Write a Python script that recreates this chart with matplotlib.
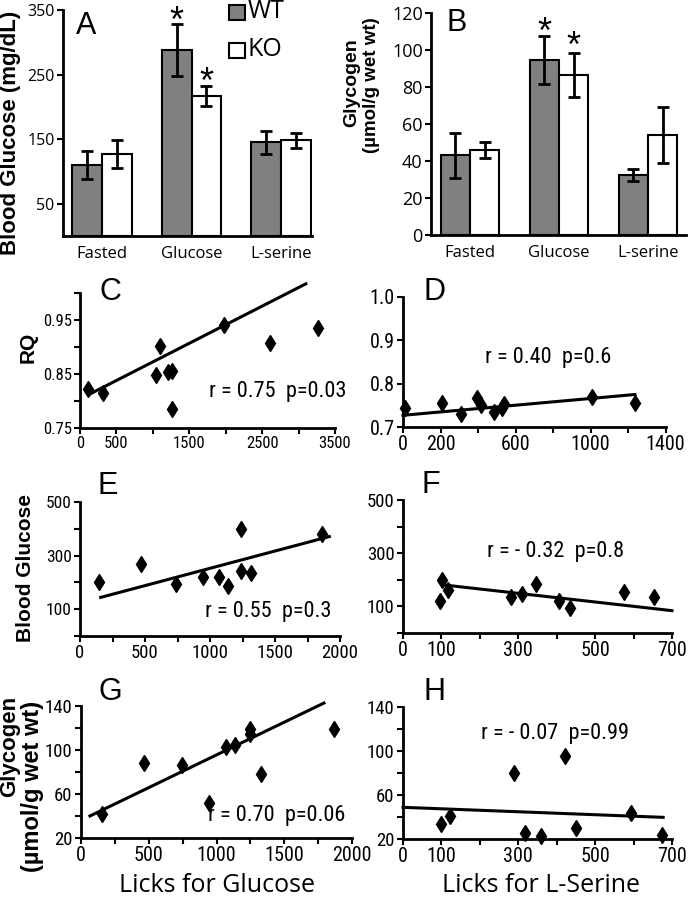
import matplotlib
matplotlib.use('Agg')
import matplotlib.pyplot as plt
import numpy as np
from matplotlib.patches import Rectangle
from matplotlib import font_manager as fm
from matplotlib.font_manager import FontProperties

W, H = 688, 899

# ---------------- data ----------------
conditions = ['Fasted', 'Glucose', 'L-serine']
bg_wt = [110, 288, 145]
bg_wt_err = [21, 40, 18]
bg_ko = [127, 217, 148]
bg_ko_err = [22, 16, 12]

gly_wt = [43, 94.5, 32.5]
gly_wt_err = [12, 13, 3.3]
gly_ko = [46, 86.5, 54]
gly_ko_err = [4.5, 12, 15]

# C: RQ vs licks for glucose
c_licks = [114, 320, 1039, 1098, 1212, 1258, 1267, 1976, 2608, 3271]
c_rq = [0.823, 0.814, 0.848, 0.902, 0.854, 0.856, 0.785, 0.941, 0.908, 0.936]
c_fit_x = [137, 3100]
c_fit_y = [0.813, 1.017]

# D: RQ vs licks for L-serine
d_licks = [10, 206, 309, 393, 414, 487, 526, 539, 1010, 1237]
d_rq = [0.745, 0.755, 0.729, 0.768, 0.750, 0.734, 0.745, 0.754, 0.769, 0.755]
d_fit_x = [0, 1237]
d_fit_y = [0.727, 0.775]

# E: blood glucose vs licks for glucose
e_licks = [149, 469, 736, 944, 1067, 1138, 1241, 1241, 1318, 1859]
e_bg = [200, 269, 194, 221, 219, 186, 399, 244, 234, 381]
e_fit_x = [159, 1918]
e_fit_y = [144, 371]

# F: blood glucose vs licks for L-serine
f_licks = [97, 101, 118, 281, 309, 345, 406, 435, 574, 652]
f_bg = [122, 200, 162, 135, 146, 185, 122, 94, 156, 135]
f_fit_x = [104, 700]
f_fit_y = [181, 84]

# G: glycogen vs licks for glucose
g_licks = [153, 467, 743, 945, 1070, 1137, 1247, 1247, 1326, 1869]
g_gly = [42, 88.4, 86.3, 51.7, 102.9, 104.4, 119.5, 115, 78.2, 119.5]
g_fit_x = [66, 1793]
g_fit_y = [40, 142.7]

# H: glycogen vs licks for L-serine
h_licks = [100, 123, 290, 317, 358, 421, 451, 594, 675]
h_gly = [33.6, 40.9, 80.3, 25.7, 22.7, 95.5, 30.3, 43.9, 23.6]
h_fit_x = [0, 677]
h_fit_y = [48.8, 39.7]

stats_text = {
    'C': 'r = 0.75  p=0.03',
    'D': 'r = 0.40  p=0.6',
    'E': 'r = 0.55  p=0.3',
    'F': 'r = - 0.32  p=0.8',
    'G': 'r = 0.70  p=0.06',
    'H': 'r = - 0.07  p=0.99',
}

# ---------------- fonts ----------------
ARIAL = ['Liberation Sans', 'DejaVu Sans']
HUMAN = ['Open Sans', 'DejaVu Sans']


def find_narrow():
    named = ['Liberation Sans Narrow', 'Arial Narrow', 'Roboto Condensed']
    for p in named:
        for f in fm.fontManager.ttflist:
            fn = f.fname.lower()
            if f.name == p and f.style == 'normal' and 'bold' not in fn and 'light' not in fn \
                    and 'italic' not in fn and 'thin' not in fn and 'medium' not in fn and 'black' not in fn:
                return f.fname
    for f in fm.fontManager.ttflist:
        fn = f.fname.lower()
        if f.stretch in ('condensed', 'semi-condensed') and f.style == 'normal' \
                and 'bold' not in fn and 'light' not in fn and 'italic' not in fn and 'oblique' not in fn:
            return f.fname
    return None


NARROW_PATH = find_narrow()


def nfp(size):
    if NARROW_PATH:
        return FontProperties(fname=NARROW_PATH, size=size)
    return FontProperties(family='Liberation Sans', size=size * 0.84)


GRAY = '#808080'

fig = plt.figure(figsize=(W / 100, H / 100), dpi=100)


def add_ax(x0, y0, x1, y1):
    return fig.add_axes([x0 / W, 1 - y1 / H, (x1 - x0) / W, (y1 - y0) / H])


def ftext(x, y, s, **kw):
    return fig.text(x / W, 1 - y / H, s, **kw)


def style_axes(ax):
    for s in ['top', 'right']:
        ax.spines[s].set_visible(False)
    for s in ['left', 'bottom']:
        ax.spines[s].set_linewidth(2)


def bar_panel(ax, wt, wte, ko, koe, ylim, yticks, stars, xlim, yfs):
    x = np.arange(len(conditions))
    bw = 0.33
    ekw = dict(ecolor='black', elinewidth=2, capsize=4, capthick=2)
    ax.bar(x - bw / 2, wt, bw, color=GRAY, edgecolor='black', linewidth=1.5,
           yerr=wte, error_kw=ekw, zorder=2)
    ax.bar(x + bw / 2, ko, bw, color='white', edgecolor='black', linewidth=1.5,
           yerr=koe, error_kw=ekw, zorder=2)
    for (dx, sy) in stars:
        ax.text(1 + dx * bw / 2, sy, '*', ha='center', va='baseline',
                fontsize=26, family=ARIAL, clip_on=False)
    ax.set_xlim(xlim)
    ax.set_ylim(ylim)
    ax.set_yticks(yticks)
    ax.set_xticks(x)
    ax.set_xticklabels(conditions, family=HUMAN, fontsize=12)
    ax.tick_params(axis='x', length=0, pad=7)
    ax.tick_params(axis='y', direction='out', length=4, width=1.5, pad=2,
                   labelsize=yfs)
    for lab in ax.get_yticklabels():
        lab.set_family(HUMAN)
    style_axes(ax)


# ---------------- panel A ----------------
axA = add_ax(63, 10, 312, 236)
bar_panel(axA, bg_wt, bg_wt_err, bg_ko, bg_ko_err, (0, 350), [50, 150, 250, 350],
          [(-1, 316), (1, 221.5)], (-0.436, 2.346), 11.5)
ftext(11, 133, 'Blood Glucose (mg/dL)', rotation=90, ha='center', va='center',
      fontsize=16, fontweight='bold', family=ARIAL)
ftext(86, 26, 'A', ha='center', va='center', fontsize=22, family=ARIAL)

# legend
fig.add_artist(Rectangle((229 / W, 1 - 20 / H), 16 / W, 15 / H, transform=fig.transFigure,
                         facecolor=GRAY, edgecolor='black', linewidth=1.5))
fig.add_artist(Rectangle((229 / W, 1 - 58 / H), 16 / W, 15 / H, transform=fig.transFigure,
                         facecolor='white', edgecolor='black', linewidth=1.5))
ftext(248, 12, 'WT', ha='left', va='center', fontsize=18, family=HUMAN)
ftext(248, 50, 'KO', ha='left', va='center', fontsize=18, family=HUMAN)

# ---------------- panel B ----------------
axB = add_ax(431, 13, 686, 235)
bar_panel(axB, gly_wt, gly_wt_err, gly_ko, gly_ko_err, (0, 120), list(range(0, 121, 20)),
          [(-1, 103.8), (1, 96.2)], (-0.438, 2.427), 13)
ftext(352, 83, 'Glycogen', rotation=90, ha='center', va='center',
      fontsize=14, fontweight='bold', family=ARIAL)
ftext(371, 85, '(\u00b5mol/g wet wt)', rotation=90, ha='center', va='center',
      fontsize=13.5, fontweight='bold', family=ARIAL)
ftext(457, 23, 'B', ha='center', va='center', fontsize=22, family=ARIAL)


# ---------------- scatter panels ----------------
def fmt_num(v, nd):
    return f'{v:.{nd}f}'


def scatter_panel(ax, x, y, fx, fy, xlim, xstep, xshow, ylim, ystep, yshow, ynd,
                  xfs, yfs, letter, lpos, stat, spos):
    ax.plot(x, y, ls='none', marker='d', ms=8.5, color='black', clip_on=False, zorder=3)
    ax.plot(fx, fy, color='black', lw=2.2, clip_on=False, zorder=2)
    ax.set_xlim(xlim)
    ax.set_ylim(ylim)
    xt = np.arange(xlim[0], xlim[1] + xstep * 0.01, xstep)
    ax.set_xticks(xt)
    ax.set_xticklabels([str(int(round(v))) if any(abs(v - s) < 1e-9 for s in xshow) else ''
                        for v in xt])
    yt = np.arange(ylim[0], ylim[1] + ystep * 0.01, ystep)
    ax.set_yticks(yt)
    ax.set_yticklabels([fmt_num(v, ynd) if any(abs(v - s) < 1e-9 for s in yshow) else ''
                        for v in yt])
    for lab in ax.get_xticklabels():
        lab.set_fontproperties(nfp(xfs))
    for lab in ax.get_yticklabels():
        lab.set_fontproperties(nfp(yfs))
    ax.tick_params(direction='out', length=4, width=1.5, pad=2)
    style_axes(ax)
    ftext(lpos[0], lpos[1], letter, ha='center', va='center', fontsize=22, family=ARIAL)
    ftext(spos[0], spos[1], stat, ha='center', va='center', fontproperties=nfp(16))


axC = add_ax(80, 293, 335, 428)
scatter_panel(axC, c_licks, c_rq, c_fit_x, c_fit_y, (0, 3500), 500, [0, 500, 1500, 2500, 3500],
              (0.75, 1.0), 0.05, [0.75, 0.85, 0.95], 2, 12, 12,
              'C', (110, 292), stats_text['C'], (278, 392))
ftext(28, 347, 'RQ', rotation=90, ha='center', va='center', fontsize=15,
      fontweight='bold', family=ARIAL)

axD = add_ax(403, 297, 665.5, 427)
scatter_panel(axD, d_licks, d_rq, d_fit_x, d_fit_y, (0, 1400), 200, [0, 200, 600, 1000, 1400],
              (0.7, 1.0), 0.1, [0.7, 0.8, 0.9, 1.0], 1, 14.5, 14.5,
              'D', (434, 292), stats_text['D'], (548, 357))

axE = add_ax(80, 502, 340, 636)
scatter_panel(axE, e_licks, e_bg, e_fit_x, e_fit_y, (0, 2000), 250, [0, 500, 1000, 1500, 2000],
              (0, 500), 100, [100, 300, 500], 0, 13.5, 12.5,
              'E', (108, 486), stats_text['E'], (268, 612))
ftext(26, 568, 'Blood Glucose', rotation=90, ha='center', va='center', fontsize=15,
      fontweight='bold', family=ARIAL)

axF = add_ax(403, 500, 672, 633)
scatter_panel(axF, f_licks, f_bg, f_fit_x, f_fit_y, (0, 700), 100, [0, 100, 300, 500, 700],
              (0, 500), 100, [100, 300, 500], 0, 14.5, 13.5,
              'F', (431, 485), stats_text['F'], (556, 551))

axG = add_ax(81, 706, 352, 838)
scatter_panel(axG, g_licks, g_gly, g_fit_x, g_fit_y, (0, 2000), 250, [0, 500, 1000, 1500, 2000],
              (20, 140), 20, [20, 60, 100, 140], 0, 14.5, 13.5,
              'G', (110, 692), stats_text['G'], (277, 816))
ftext(10, 746, 'Glycogen', rotation=90, ha='center', va='center', fontsize=16,
      fontweight='bold', family=ARIAL)
ftext(33, 786, '(\u00b5mol/g wet wt)', rotation=90, ha='center', va='center', fontsize=17,
      fontweight='bold', family=ARIAL)
ftext(217, 886, 'Licks for Glucose', ha='center', va='center', fontsize=18, family=HUMAN)

axH = add_ax(403, 707, 672, 839)
scatter_panel(axH, h_licks, h_gly, h_fit_x, h_fit_y, (0, 700), 100, [0, 100, 300, 500, 700],
              (20, 140), 20, [20, 60, 100, 140], 0, 14.5, 13.5,
              'H', (434, 692), stats_text['H'], (555, 734))
ftext(541, 886, 'Licks for L-Serine', ha='center', va='center', fontsize=18, family=HUMAN)

fig.savefig('out.png', dpi=100)
